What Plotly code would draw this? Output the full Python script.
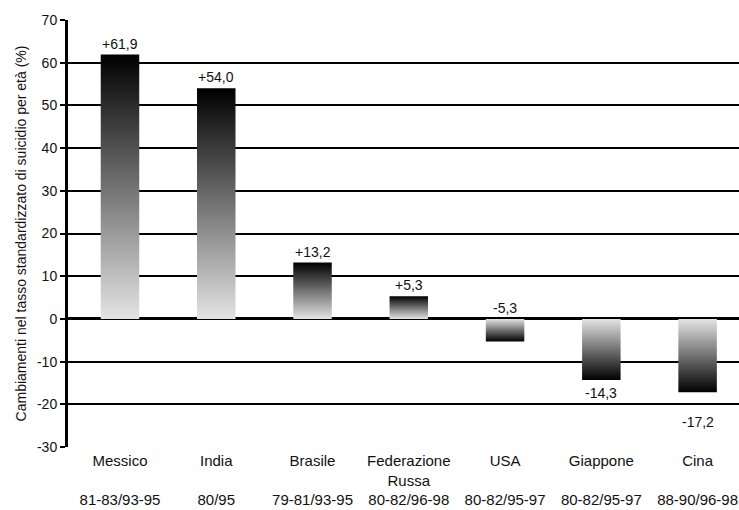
import plotly.graph_objects as go

# Paesi, periodi di confronto e variazione percentuale del tasso
paesi = ["Messico", "India", "Brasile", "Federazione<br>Russa", "USA", "Giappone", "Cina"]
periodi = ["81-83/93-95", "80/95", "79-81/93-95", "80-82/96-98", "80-82/95-97", "80-82/95-97", "88-90/96-98"]
variazioni = [61.9, 54.0, 13.2, 5.3, -5.3, -14.3, -17.2]

y_ticks = list(range(-30, 71, 10))
y_ticktext = [str(t) for t in y_ticks]

FONT = "Liberation Sans, Arial, sans-serif"
DARK = "#000000"
LIGHT = "#e4e4e4"
HALF_W = 0.2

fig = go.Figure()

for i, v in enumerate(variazioni):
    x0, x1 = i - HALF_W, i + HALF_W
    if v >= 0:
        scale = [[0, LIGHT], [1, DARK]]
    else:
        scale = [[0, DARK], [1, LIGHT]]
    fig.add_trace(go.Scatter(
        x=[x0, x1, x1, x0, x0],
        y=[0, 0, v, v, 0],
        mode="lines",
        line=dict(width=0),
        fill="toself",
        fillgradient=dict(type="vertical", colorscale=scale),
        hoverinfo="skip",
        showlegend=False,
    ))

    label = f"{v:+.1f}".replace(".", ",")
    if v >= 0:
        fig.add_annotation(x=i, y=v, text=label, showarrow=False,
                           yanchor="bottom", yshift=1)
    elif v > -10:
        # short negative bar: label sits above the zero line
        fig.add_annotation(x=i, y=0, text=label, showarrow=False,
                           yanchor="bottom", yshift=1)
    else:
        # keep the label clear of a gridline just below the bar end
        below = [t for t in y_ticks if v - 4 < t < v]
        anchor_y = below[0] if below else v
        shift = -8 if below else -3
        fig.add_annotation(x=i, y=anchor_y, text=label, showarrow=False,
                           yanchor="top", yshift=shift)

ticktext = []
for p, per in zip(paesi, periodi):
    name = p if "<br>" in p else p + "<br> "
    ticktext.append(f"{name}<br>{per}")

fig.update_layout(
    width=739, height=510,
    margin=dict(l=68, r=0, t=20, b=63),
    paper_bgcolor="white", plot_bgcolor="white",
    font=dict(family=FONT, size=14, color="#111111"),
    xaxis=dict(
        range=[-0.54, 6.43],
        tickmode="array",
        tickvals=list(range(len(paesi))),
        ticktext=ticktext,
        tickfont=dict(size=15),
        showgrid=False, zeroline=False, showline=False,
        ticks="", ticklabelstandoff=3,
        fixedrange=True,
    ),
    yaxis=dict(
        range=[-30, 70],
        tickmode="array",
        tickvals=y_ticks,
        ticktext=y_ticktext,
        showgrid=True, gridcolor="#000000", gridwidth=2,
        zeroline=True, zerolinecolor="#000000", zerolinewidth=3,
        showline=True, linecolor="#000000", linewidth=3,
        ticks="outside", ticklen=5, tickwidth=2, tickcolor="#000000",
        title=dict(text="Cambiamenti nel tasso standardizzato di suicidio per età (%)",
                   font=dict(size=14), standoff=8),
        fixedrange=True,
    ),
)

fig.write_html("out.html")
